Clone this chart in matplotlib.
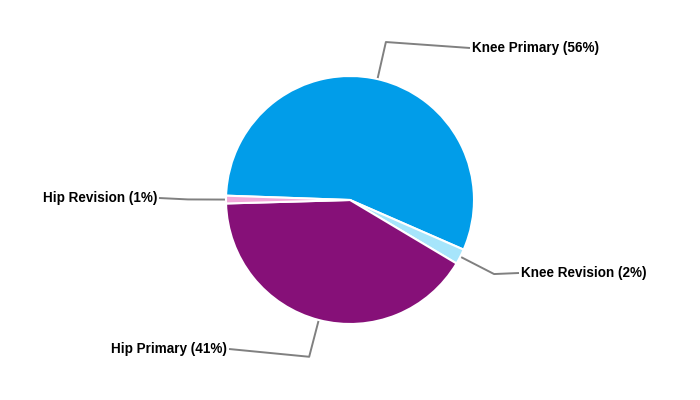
import numpy as np
import matplotlib
matplotlib.use('Agg')
from matplotlib import pyplot as plt

labels = ['Knee Primary', 'Knee Revision', 'Hip Primary', 'Hip Revision']
values = [56, 2, 41, 1]
colors = ['#019de9', '#a6e5fb', '#861078', '#f2a9d9']

# label anchor positions in pixels (x, y from top), and alignment
text_pos = [(472, 48), (521, 273), (227, 349), (157, 198)]
text_ha = ['left', 'left', 'right', 'right']

W, H = 700, 400
cx, cy, r = 350, 200, 124
start = 178

fig = plt.figure(figsize=(7, 4), dpi=100)
ax = fig.add_axes([0, 0, 1, 1])
ax.set_xlim(0, W)
ax.set_ylim(0, H)
ax.axis('off')

wedges, _ = ax.pie(values, colors=colors, startangle=start, counterclock=False,
                   center=(cx, H - cy), radius=r,
                   wedgeprops=dict(edgecolor='white', linewidth=1.5))
ax.set_xlim(0, W)
ax.set_ylim(0, H)
ax.set_aspect('equal')

total = float(sum(values))
ang = start
for i in range(len(values)):
    span = 360.0 * values[i] / total
    mid = np.radians(ang - span / 2)
    ang -= span
    x0 = cx + r * np.cos(mid)
    y0 = (H - cy) + r * np.sin(mid)
    x1 = cx + (r + 38) * np.cos(mid)
    y1 = (H - cy) + (r + 38) * np.sin(mid)
    tx, ty = text_pos[i]
    ty = H - ty
    lx = tx - 2 if text_ha[i] == 'left' else tx + 2
    ax.plot([x0, x1, lx], [y0, y1, ty], color='#808080', linewidth=1.4,
            solid_capstyle='butt', zorder=0)
    pct = int(round(100 * values[i] / total))
    ax.text(tx, ty, '%s (%d%%)' % (labels[i], pct), ha=text_ha[i], va='center',
            fontsize=9.75, fontweight='bold', family='Liberation Sans', color='black')

plt.savefig('out.png', dpi=100)
